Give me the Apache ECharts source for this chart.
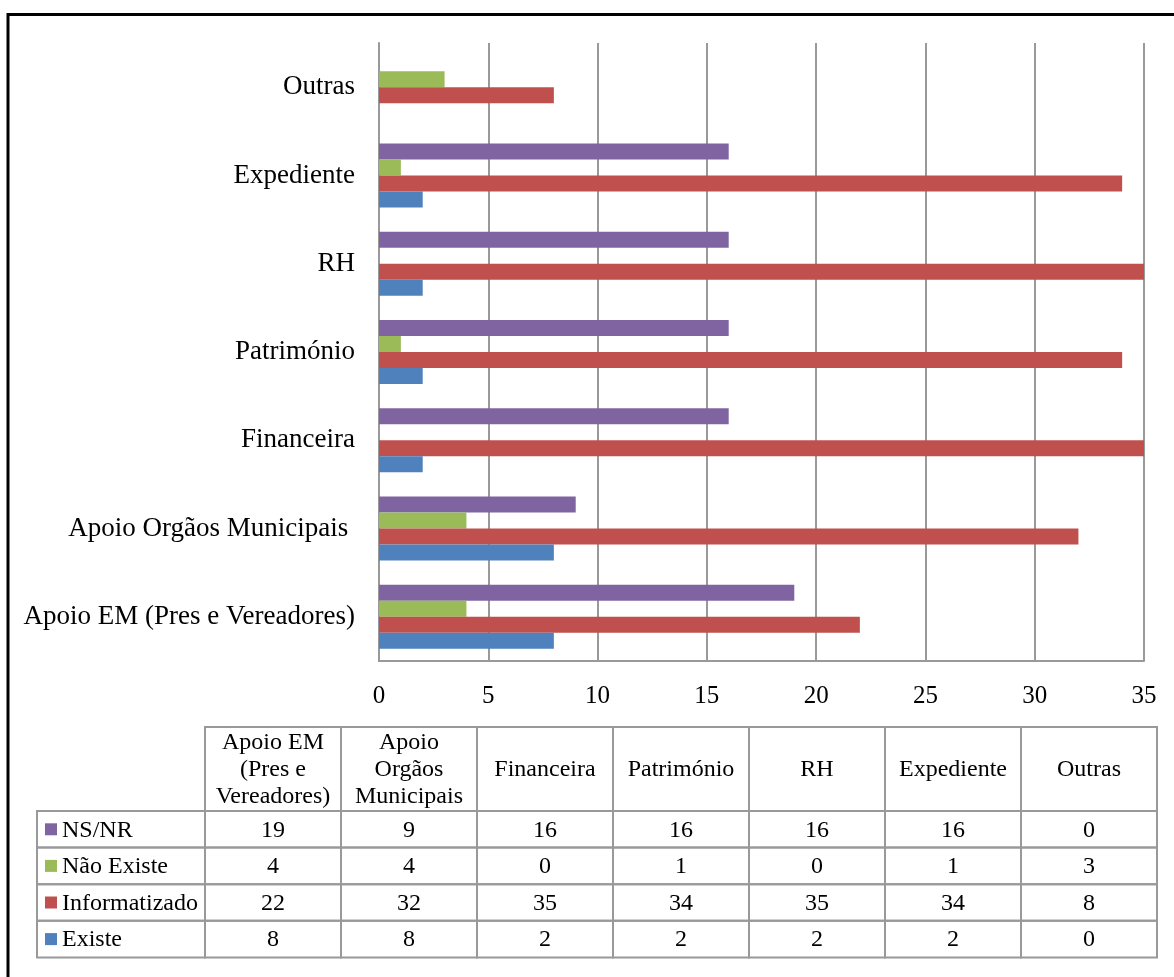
<!DOCTYPE html>
<html>
<head>
<meta charset="utf-8">
<script src="https://cdn.jsdelivr.net/npm/echarts@6/dist/echarts.min.js"></script>
<style>
html,body{margin:0;padding:0;background:#fff;}
#chart{width:1174px;height:977px;}
</style>
</head>
<body>
<div id="chart"></div>
<script>
// ---- data ----
var categories = ['Apoio EM (Pres e Vereadores)', 'Apoio Orgãos Municipais ', 'Financeira', 'Património', 'RH', 'Expediente', 'Outras'];
var headerLabels = ['Apoio EM\n(Pres e\nVereadores)', 'Apoio\nOrgãos\nMunicipais', 'Financeira', 'Património', 'RH', 'Expediente', 'Outras'];
var seriesNames = ['NS/NR', 'Não Existe', 'Informatizado', 'Existe'];
var nsnr = [19, 9, 16, 16, 16, 16, 0];
var naoExiste = [4, 4, 0, 1, 0, 1, 3];
var informatizado = [22, 32, 35, 34, 35, 34, 8];
var existe = [8, 8, 2, 2, 2, 2, 0];
var xTicks = [0, 5, 10, 15, 20, 25, 30, 35];

var seriesData = [nsnr, naoExiste, informatizado, existe];
var colors = ['#8064A2', '#9BBB59', '#C0504D', '#4F81BD'];
var FONT = '"Liberation Serif", "Times New Roman", serif';
var GRID = '#999999';

var chart = echarts.init(document.getElementById('chart'));

// ---- table graphics ----
var tLeft = 37, labelW = 168, colX0 = 205, colW = 136, headTop = 727, headH = 84, rowTop = 811, rowH = 36.6;
var g = [];
// outer border
g.push({type: 'rect', shape: {x: 8, y: 14.5, width: 1180, height: 980}, style: {fill: 'none', stroke: '#000', lineWidth: 3}, silent: true, z: 10});
// header cells
for (var c = 0; c < headerLabels.length; c++) {
  g.push({type: 'rect', shape: {x: colX0 + c * colW, y: headTop, width: colW, height: headH}, style: {fill: 'none', stroke: GRID, lineWidth: 2}, z: 10});
  g.push({type: 'text', x: colX0 + c * colW + colW / 2, y: headTop + headH / 2 + 1, style: {text: headerLabels[c], font: '24px ' + FONT, fill: '#000', align: 'center', verticalAlign: 'middle', lineHeight: 27}, z: 11});
}
for (var r = 0; r < seriesNames.length; r++) {
  var y = rowTop + r * rowH;
  g.push({type: 'rect', shape: {x: tLeft, y: y, width: labelW, height: rowH}, style: {fill: 'none', stroke: GRID, lineWidth: 2}, z: 10});
  g.push({type: 'rect', shape: {x: tLeft + 8, y: y + rowH / 2 - 6, width: 12, height: 12}, style: {fill: colors[r]}, z: 11});
  g.push({type: 'text', x: tLeft + 25, y: y + rowH / 2 + 1, style: {text: seriesNames[r], font: '24px ' + FONT, fill: '#000', align: 'left', verticalAlign: 'middle'}, z: 11});
  for (var c2 = 0; c2 < categories.length; c2++) {
    g.push({type: 'rect', shape: {x: colX0 + c2 * colW, y: y, width: colW, height: rowH}, style: {fill: 'none', stroke: GRID, lineWidth: 2}, z: 10});
    g.push({type: 'text', x: colX0 + c2 * colW + colW / 2, y: y + rowH / 2 + 1, style: {text: String(seriesData[r][c2]), font: '24px ' + FONT, fill: '#000', align: 'center', verticalAlign: 'middle'}, z: 11});
  }
}

var series = seriesNames.map(function (name, i) {
  return {
    name: name,
    type: 'bar',
    data: seriesData[i],
    barWidth: 16,
    barGap: '0%',
    itemStyle: {color: colors[i]},
    silent: true
  };
});

chart.setOption({
  animation: false,
  backgroundColor: '#fff',
  grid: {left: 379, right: 30, top: 43, bottom: 316, containLabel: false},
  xAxis: {
    type: 'value', min: xTicks[0], max: xTicks[xTicks.length - 1], interval: xTicks[1] - xTicks[0],
    axisLine: {show: true, lineStyle: {color: GRID, width: 2}},
    axisTick: {show: false},
    splitLine: {show: true, lineStyle: {color: GRID, width: 2}},
    axisLabel: {fontFamily: FONT, fontSize: 25, color: '#000', margin: 23}
  },
  yAxis: {
    type: 'category', data: categories,
    axisLine: {show: true, lineStyle: {color: GRID, width: 2}},
    axisTick: {show: false},
    splitLine: {show: false},
    axisLabel: {fontFamily: FONT, fontSize: 27, color: '#000', margin: 24}
  },
  series: series,
  graphic: g
});
</script>
</body>
</html>
